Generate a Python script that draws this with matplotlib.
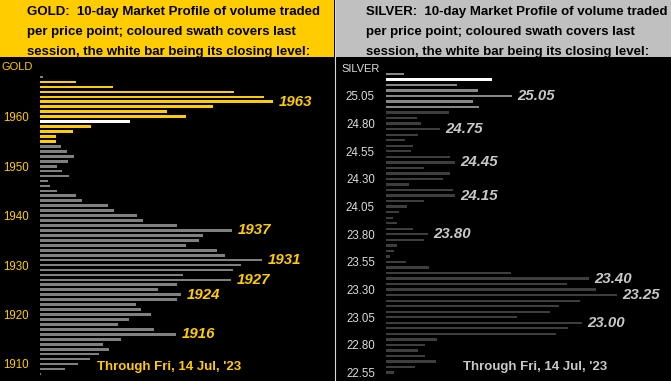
import numpy as np
import matplotlib.pyplot as plt
from matplotlib.patches import Rectangle
from matplotlib.lines import Line2D

# price levels (one bar per level)
gold_prices = np.arange(1968, 1907, -1)
gold_volume = [3, 36, 73, 194, 224, 233, 173, 127, 146, 90, 51, 33, 16, 16,
               21, 27, 34, 28, 17, 22, 29, 8, 10, 17, 36, 42, 68, 74, 97, 103,
               137, 192, 163, 159, 146, 177, 185, 222, 201, 193, 143, 191, 137,
               118, 141, 137, 96, 101, 111, 89, 78, 114, 136, 81, 63, 69, 59,
               50, 38, 25, 1]
gold_session = (1955, 1967)
gold_close = 1959
gold_marks = [1963, 1937, 1931, 1927, 1924, 1916]
gold_ticks = [1910, 1920, 1930, 1940, 1950, 1960]

silver_prices = np.arange(2525, 2250, -5) / 100
silver_volume = [18, 106, 71, 92, 126, 87, 93, 63, 31, 35, 54, 32, 19, 27, 25,
                 64, 69, 38, 64, 57, 23, 67, 69, 38, 21, 13, 7, 11, 27, 42, 38,
                 11, 8, 4, 20, 43, 125, 203, 181, 210, 231, 194, 173, 164, 131,
                 196, 182, 170, 51, 39, 32, 39, 50, 29, 8]
silver_session = (24.95, 25.25)
silver_close = 25.20
silver_marks = [25.05, 24.75, 24.45, 24.15, 23.80, 23.40, 23.25, 23.00]
silver_ticks = [22.55, 22.80, 23.05, 23.30, 23.55, 23.80, 24.05, 24.30, 24.55, 24.80, 25.05]

W, H = 671, 381
GOLD = '#FFCC00'
fig = plt.figure(figsize=(W / 100, H / 100), dpi=100, facecolor='black')
plt.rcParams['font.family'] = ['Liberation Sans', 'DejaVu Sans']

hdr = 57
# header boxes
fig.add_artist(Rectangle((0, 1 - hdr / H), 334 / W, hdr / H, transform=fig.transFigure,
                         facecolor=GOLD, edgecolor='none'))
fig.add_artist(Rectangle((335 / W, 1 - hdr / H), 336 / W, hdr / H, transform=fig.transFigure,
                         facecolor='#C0C0C0', edgecolor='none'))
fig.add_artist(Line2D([334.5 / W, 334.5 / W], [0, 1], transform=fig.transFigure,
                      color='#D8D8D8', lw=0.8))

lines = ['10-day Market Profile of volume traded',
         'per price point; coloured swath covers last',
         'session, the white bar being its closing level:']
for x0, name in [(27, 'GOLD'), (366, 'SILVER')]:
    for i, ln in enumerate(lines):
        txt = (name + ':  ' + ln) if i == 0 else ln
        fig.text(x0 / W, 1 - (12 + 20 * i) / H, txt, fontsize=9.5, fontweight='bold',
                 color='black', va='center', ha='left')


def panel(left, right, prices, vol, session, close, marks, ticks, ylim, step,
          hi, lo, txtcol, tickfmt, name, name_x, name_y, foot_x, height):
    ax = fig.add_axes([left / W, 0, (right - left) / W, (H - hdr) / H])
    ax.set_facecolor('none')
    cols = []
    for p in prices:
        if abs(p - close) < 1e-6:
            cols.append('white')
        elif session[0] - 1e-6 <= p <= session[1] + 1e-6:
            cols.append(hi)
        else:
            cols.append(lo)
    ax.barh(prices, vol, height=step * height, color=cols)
    ax.set_xlim(0, right - left)
    ax.set_ylim(*ylim)
    for s in ax.spines.values():
        s.set_visible(False)
    ax.set_xticks([])
    ax.set_yticks(ticks)
    ax.set_yticklabels([tickfmt % t for t in ticks], color=txtcol, fontsize=8.3)
    ax.tick_params(axis='y', length=0, pad=8)
    vmap = dict(zip(np.round(prices, 2), vol))
    for m in marks:
        ax.annotate(tickfmt % m if name == 'SILVER' else '%d' % m,
                    (vmap[round(m, 2)], m), xytext=(4, 0), textcoords='offset points',
                    color=hi if name == 'GOLD' else '#C8C8C8', fontsize=10.8,
                    fontweight='bold', fontstyle='italic', va='center', ha='left')
    fig.text(name_x / W, 1 - name_y / H, name, color=txtcol, fontsize=8,
             va='center', ha='left')
    fig.text(foot_x / W, 1 - 367 / H, "Through Fri, 14 Jul, '23",
             color=GOLD if name == 'GOLD' else '#C8C8C8', fontsize=9.5,
             fontweight='bold', va='center', ha='left')
    return ax


panel(40, 330, gold_prices, gold_volume, gold_session, gold_close, gold_marks,
      gold_ticks, (1906.56, 1972.07), 1, GOLD, '#808080', GOLD, '%d', 'GOLD',
      2, 67, 97, 0.55)
panel(386, 668, silver_prices, silver_volume, silver_session, silver_close,
      silver_marks, silver_ticks, (22.474, 25.4025), 0.05, '#878787', '#3E3E3E',
      '#DCDCDC', '%.2f', 'SILVER', 341, 69, 463, 0.42)

fig.savefig('out.png', dpi=100, facecolor='black')
